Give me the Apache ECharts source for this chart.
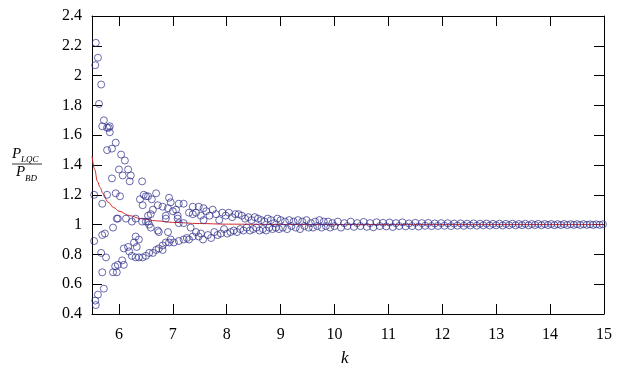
<!DOCTYPE html>
<html>
<head>
<meta charset="utf-8">
<script src="https://cdn.jsdelivr.net/npm/echarts@6/dist/echarts.min.js"></script>
<style>
  html, body { margin: 0; padding: 0; background: #fff; }
  #main { width: 625px; height: 375px; }
</style>
</head>
<body>
<div id="main"></div>
<script>
// values
var xTicks = [6, 7, 8, 9, 10, 11, 12, 13, 14, 15];

// upper branch, k < 7.6
var branchUpper = [
  [5.57,2.22],[5.61,2.12],[5.56,2.07],[5.67,1.94],[5.63,1.81],[5.72,1.70],[5.69,1.66],[5.83,1.66],
  [5.78,1.65],[5.81,1.65],[5.83,1.62],[5.78,1.50],[5.87,1.51],[5.94,1.55],[6.04,1.47],[6.11,1.43],
  [6.00,1.37],[6.07,1.33],[6.17,1.37],[6.22,1.33],[6.20,1.29],[5.87,1.31],[6.43,1.29],[5.54,1.20],
  [5.78,1.20],[5.94,1.21],[6.02,1.19],[5.69,1.14],[6.46,1.20],[6.50,1.19],[6.39,1.17],[6.44,1.13],
  [6.69,1.21],[6.54,1.19],[6.61,1.17],[6.93,1.18],[6.96,1.15],[7.11,1.14],[7.20,1.14],[7.37,1.12],
  [7.48,1.12],[7.57,1.11],[6.91,1.11],[7.06,1.10],[6.63,1.10],[6.72,1.13],[7.30,1.08],[7.43,1.08],
  [7.09,1.06],[6.87,1.06],[6.59,1.07],[7.52,1.06],[7.57,1.03],[7.37,1.07],[7.00,1.09],[6.81,1.12]
];

// lower branch and middle points, k < 7.6
var branchLower = [
  [5.96,1.04],[6.13,1.04],[6.31,1.04],[6.54,1.06],[5.98,1.04],[6.24,1.02],[6.43,1.02],[6.50,1.02],
  [6.54,1.02],[6.59,0.98],[6.56,1.00],[6.74,0.95],[6.91,0.95],[6.72,0.96],[7.11,1.01],[7.20,1.01],
  [7.33,0.98],[7.43,0.95],[7.52,0.94],[7.48,0.92],[7.56,0.90],[7.37,0.92],[7.30,0.90],[7.20,0.90],
  [7.11,0.89],[7.02,0.88],[6.93,0.88],[6.87,0.88],[6.81,0.86],[6.74,0.84],[6.69,0.83],[6.63,0.81],
  [6.56,0.81],[6.81,0.83],[5.54,0.89],[5.69,0.93],[5.74,0.94],[5.89,0.98],[6.31,0.92],[6.37,0.90],
  [6.28,0.88],[6.33,0.85],[6.09,0.84],[6.17,0.85],[6.19,0.82],[6.24,0.79],[6.31,0.78],[6.37,0.78],
  [6.44,0.78],[6.50,0.79],[5.67,0.81],[5.76,0.78],[6.06,0.76],[6.09,0.73],[5.98,0.73],[5.93,0.72],
  [5.89,0.68],[5.96,0.68],[5.69,0.68],[5.72,0.57],[5.61,0.53],[5.56,0.49],[5.57,0.46],[6.87,1.04],
  [7.09,1.04],[6.96,0.90],[7.26,0.91]
];

// narrowing band, k >= 7.6
var bandTail = [
  [7.62,1.09],[7.65,0.93],[7.68,1.06],[7.71,0.91],[7.74,1.10],[7.77,0.95],[7.80,1.07],[7.83,0.93],
  [7.86,1.03],[7.89,0.94],[7.92,1.08],[7.95,0.97],[7.98,1.06],[8.01,0.94],[8.04,1.08],[8.07,0.95],
  [8.10,1.05],[8.13,0.96],[8.16,1.07],[8.19,0.95],[8.22,1.07],[8.25,0.97],[8.28,1.06],[8.31,0.96],
  [8.34,1.04],[8.37,0.98],[8.40,1.05],[8.43,0.96],[8.46,1.03],[8.49,0.97],[8.52,1.05],[8.55,0.98],
  [8.58,1.04],[8.61,0.96],[8.64,1.03],[8.67,0.97],[8.70,1.02],[8.73,0.96],[8.76,1.04],[8.79,0.98],
  [8.82,1.03],[8.85,0.97],[8.88,1.01],[8.91,0.98],[8.94,1.04],[8.97,0.97],[9.00,1.03],[9.04,0.98],
  [9.08,1.02],[9.12,0.97],[9.16,1.03],[9.20,0.99],[9.24,1.02],[9.28,0.98],[9.32,1.03],[9.36,0.97],
  [9.40,1.02],[9.44,0.99],[9.48,1.03],[9.52,0.98],[9.56,1.01],[9.60,0.98],[9.64,1.02],[9.68,0.99],
  [9.72,1.03],[9.76,0.98],[9.80,1.02],[9.84,0.99],[9.88,1.02],[9.92,0.98],[9.96,1.01],[10.00,0.99],
  [10.06,1.02],[10.12,0.98],[10.18,1.01],[10.24,0.99],[10.30,1.02],[10.36,0.985],[10.42,1.01],[10.48,0.99],
  [10.54,1.018],[10.60,0.985],[10.66,1.01],[10.72,0.982],[10.78,1.016],[10.84,0.99],[10.90,1.012],[10.96,0.988],
  [11.02,1.014],[11.08,0.984],[11.14,1.01],[11.20,0.99],[11.26,1.015],[11.32,0.988],[11.38,1.008],[11.44,0.99],
  [11.50,1.012],[11.56,0.987],[11.62,1.01],[11.68,0.992],[11.74,1.011],[11.80,0.99],[11.86,1.008],[11.92,0.991],
  [11.98,1.01],[12.04,0.992],[12.10,1.009],[12.16,0.99],[12.22,1.007],[12.28,0.993],[12.34,1.008],[12.40,0.992],
  [12.46,1.006],[12.52,0.994],[12.58,1.008],[12.64,0.993],[12.70,1.006],[12.76,0.995],[12.82,1.007],[12.88,0.994],
  [12.94,1.005],[13.00,0.995],[13.06,1.006],[13.12,0.994],[13.18,1.005],[13.24,0.996],[13.30,1.006],[13.36,0.995],
  [13.42,1.004],[13.48,0.996],[13.54,1.005],[13.60,0.995],[13.66,1.004],[13.72,0.997],[13.78,1.005],[13.84,0.996],
  [13.90,1.004],[13.96,0.997],[14.02,1.004],[14.08,0.996],[14.14,1.003],[14.20,0.997],[14.26,1.004],[14.32,0.997],
  [14.38,1.003],[14.44,0.998],[14.50,1.003],[14.56,0.997],[14.62,1.003],[14.68,0.998],[14.74,1.002],[14.80,0.998],
  [14.86,1.002],[14.92,0.998],[14.98,1.002]
];

// red reference curve
var curveK     = [5.5, 5.55, 5.6, 5.65, 5.7, 5.8, 5.9, 6.0, 6.2, 6.4, 6.7, 7.0, 7.5, 8.0, 9.0, 10, 12, 15];
var curveRatio = [1.46, 1.37, 1.29, 1.25, 1.21, 1.15, 1.115, 1.09, 1.06, 1.04, 1.025, 1.015, 1.007, 1.003, 1.001, 1.0, 1.0, 1.0];

var myChart = echarts.init(document.getElementById('main'));

var serif = '"Liberation Serif", "DejaVu Serif", serif';
var ink = '#2e2e8c';

var curveData = [];
for (var i = 0; i < curveK.length; ++i) {
    curveData.push([curveK[i], curveRatio[i]]);
}
var points = branchUpper.concat(branchLower, bandTail);

function xAxisCfg(pos, labels) {
    return {
        type: 'value', position: pos, min: 5.5, max: 15,
        axisLine: { show: true, onZero: false, lineStyle: { color: '#000', width: 1 } },
        axisTick: { show: true, inside: true, length: 10, customValues: xTicks, lineStyle: { color: '#000' } },
        axisLabel: { show: labels, customValues: xTicks, margin: 13, color: '#000', fontFamily: serif, fontSize: 16 },
        splitLine: { show: false }
    };
}
function yAxisCfg(pos, labels) {
    return {
        type: 'value', position: pos, min: 0.4, max: 2.4, interval: 0.2,
        axisLine: { show: true, onZero: false, lineStyle: { color: '#000', width: 1 } },
        axisTick: { show: true, inside: true, length: 10, lineStyle: { color: '#000' } },
        axisLabel: { show: labels, margin: 10, color: '#000', fontFamily: serif, fontSize: 16 },
        splitLine: { show: false }
    };
}

var option = {
    animation: false,
    grid: { left: 92, right: 21, top: 16, bottom: 61, containLabel: false, outerBoundsMode: 'none' },
    xAxis: [xAxisCfg('bottom', true), xAxisCfg('top', false)],
    yAxis: [yAxisCfg('left', true), yAxisCfg('right', false)],
    graphic: [
        {
            type: 'text', left: 341, top: 350,
            style: { text: 'k', fontFamily: serif, fontStyle: 'italic', fontSize: 17, fill: '#000' }
        },
        {
            // fraction P_LQC / P_BD
            type: 'group', x: 27, y: 164,
            children: [
                { type: 'line', shape: { x1: -15, y1: 0, x2: 15, y2: 0 }, style: { stroke: '#000', lineWidth: 0.8 } },
                { type: 'text', x: -15, y: -2, style: { text: 'P', fontFamily: serif, fontStyle: 'italic', fontSize: 15, fill: '#000', verticalAlign: 'bottom' } },
                { type: 'text', x: -6, y: 0, style: { text: 'LQC', fontFamily: serif, fontStyle: 'italic', fontSize: 9, fill: '#000', verticalAlign: 'bottom' } },
                { type: 'text', x: -11, y: 1, style: { text: 'P', fontFamily: serif, fontStyle: 'italic', fontSize: 15, fill: '#000', verticalAlign: 'top' } },
                { type: 'text', x: -2, y: 10, style: { text: 'BD', fontFamily: serif, fontStyle: 'italic', fontSize: 9, fill: '#000', verticalAlign: 'top' } }
            ]
        }
    ],
    series: [
        {
            type: 'line', data: curveData, showSymbol: false, smooth: 0.4, smoothMonotone: 'x',
            lineStyle: { color: '#d42a2a', width: 1 }, z: 1
        },
        {
            type: 'scatter', data: points, symbol: 'circle', symbolSize: 7,
            itemStyle: { color: 'rgba(0,0,0,0)', borderColor: ink, borderWidth: 0.9 }, z: 2
        }
    ]
};

myChart.setOption(option);
</script>
</body>
</html>
